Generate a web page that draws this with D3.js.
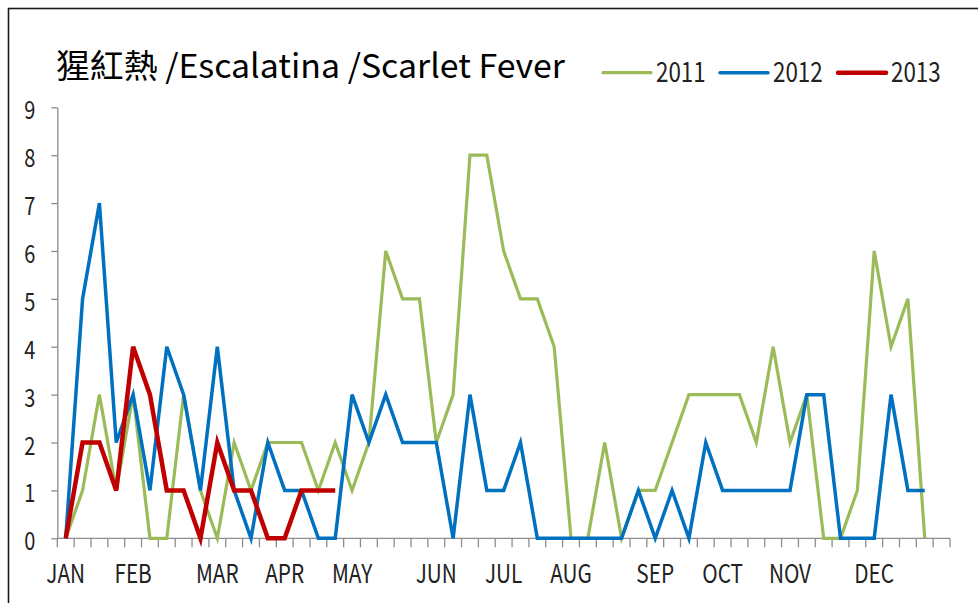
<html>
<head>
<meta charset="utf-8">
<script src="https://d3js.org/d3.v7.min.js"></script>
<style>
  body { margin: 0; background: #fff; }
  svg { display: block; }
</style>
</head>
<body>
<svg width="978" height="603"></svg>

<script>
// weekly case counts, week 0 .. 52
var weeks = d3.range(53);
var y2011 = [0,1,3,1,3,0,0,3,1,0,2,1,2,2,2,1,2,1,2,6,5,5,2,3,8,8,6,5,5,4,0,0,2,0,1,1,2,3,3,3,3,2,4,2,3,0,0,1,6,4,5,0];
var y2012 = [0,5,7,2,3,1,4,3,1,4,1,0,2,1,1,0,0,3,2,3,2,2,2,0,3,1,1,2,0,0,0,0,0,0,1,0,1,0,2,1,1,1,1,1,3,3,0,0,0,3,1,1];
var y2013 = [0,2,2,1,4,3,1,1,0,2,1,1,0,0,1,1,1];

var monthLabels = ["JAN","FEB","MAR","APR","MAY","JUN","JUL","AUG","SEP","OCT","NOV","DEC"];
var monthWeeks  = [0, 4, 9, 13, 17, 22, 26, 30, 35, 39, 43, 48];

var seriesNames  = ["2011", "2012", "2013"];
var seriesColors = ["#9bbb59", "#0070c0", "#c00000"];
var seriesWidths = [3.2, 3.5, 4.5];

var titleText = "猩紅熱 /Escalatina /Scarlet Fever";
var font = "'Noto Sans CJK TC', 'Noto Sans', sans-serif";
var sx = 0.8;   // narrow text look

var svg = d3.select("svg");

// frame
svg.append("rect")
  .attr("x", 8.5).attr("y", 8.5)
  .attr("width", 1200).attr("height", 1200)
  .attr("fill", "none")
  .attr("stroke", "#1a1a1a")
  .attr("stroke-width", 1.6);

var x = d3.scaleBand().domain(weeks).range([57.3, 950]).padding(0);
var bw = x.bandwidth();
var y = d3.scaleLinear().domain([0, 9]).range([538.3, 107.3]);

var cx = function(i) { return x(i) + bw / 2; };

// y axis
var yAxis = svg.append("g")
  .attr("transform", "translate(57.3,0)")
  .call(d3.axisLeft(y).ticks(9).tickSize(6).tickSizeOuter(0).tickFormat(d3.format("d")));
yAxis.select(".domain").attr("stroke", "#8c8c8c").attr("stroke-width", 1.3);
yAxis.selectAll(".tick line").attr("stroke", "#8c8c8c").attr("stroke-width", 1.3);
yAxis.selectAll(".tick text")
  .attr("x", 0).attr("dy", null)
  .attr("dominant-baseline", "central")
  .attr("text-anchor", "end")
  .attr("transform", "translate(-22,1) scale(" + sx + ",1)")
  .attr("font-family", font)
  .attr("font-size", 25)
  .attr("fill", "#222");

// x axis line + boundary ticks
var gx = svg.append("g");
gx.append("line")
  .attr("x1", x.range()[0]).attr("x2", x.range()[1])
  .attr("y1", y(0)).attr("y2", y(0))
  .attr("stroke", "#8c8c8c").attr("stroke-width", 1.3);
gx.selectAll("line.tk")
  .data(weeks.concat([53]))
  .enter().append("line")
  .classed("tk", true)
  .attr("x1", d => d < 53 ? x(d) : x.range()[1])
  .attr("x2", d => d < 53 ? x(d) : x.range()[1])
  .attr("y1", y(0)).attr("y2", y(0) + 9)
  .attr("stroke", "#8c8c8c").attr("stroke-width", 1.3);

gx.selectAll("text")
  .data(monthLabels)
  .enter().append("text")
  .attr("transform", (d, i) => "translate(" + cx(monthWeeks[i]) + ",583) scale(" + sx + ",1)")
  .attr("text-anchor", "middle")
  .attr("font-family", font)
  .attr("font-size", 26)
  .attr("fill", "#222")
  .text(d => d);

// lines
var line = d3.line()
  .x((d, i) => cx(i))
  .y(d => y(d));

[y2011, y2012, y2013].forEach(function(vals, k) {
  svg.append("path")
    .datum(vals)
    .attr("d", line)
    .attr("fill", "none")
    .attr("stroke", seriesColors[k])
    .attr("stroke-width", seriesWidths[k])
    .attr("stroke-linejoin", "miter")
    .attr("stroke-linecap", "butt");
});

// title
svg.append("text")
  .attr("x", 56).attr("y", 78)
  .attr("font-family", font)
  .attr("font-size", 33)
  .attr("fill", "#000")
  .attr("textLength", 509)
  .attr("lengthAdjust", "spacingAndGlyphs")
  .text(titleText);

// legend
var legX = [603, 720, 838];
var leg = svg.selectAll("g.leg")
  .data(seriesNames)
  .enter().append("g")
  .classed("leg", true)
  .attr("transform", (d, i) => "translate(" + legX[i] + ",72.7)");
leg.append("line")
  .attr("x1", 0).attr("x2", 48)
  .attr("stroke", (d, i) => seriesColors[i])
  .attr("stroke-width", (d, i) => seriesWidths[i])
  .attr("stroke-linecap", "round");
leg.append("text")
  .attr("transform", "translate(53,9.5) scale(" + sx + ",1)")
  .attr("font-family", font)
  .attr("font-size", 28)
  .attr("fill", "#222")
  .text(d => d);
</script>
</body>
</html>
